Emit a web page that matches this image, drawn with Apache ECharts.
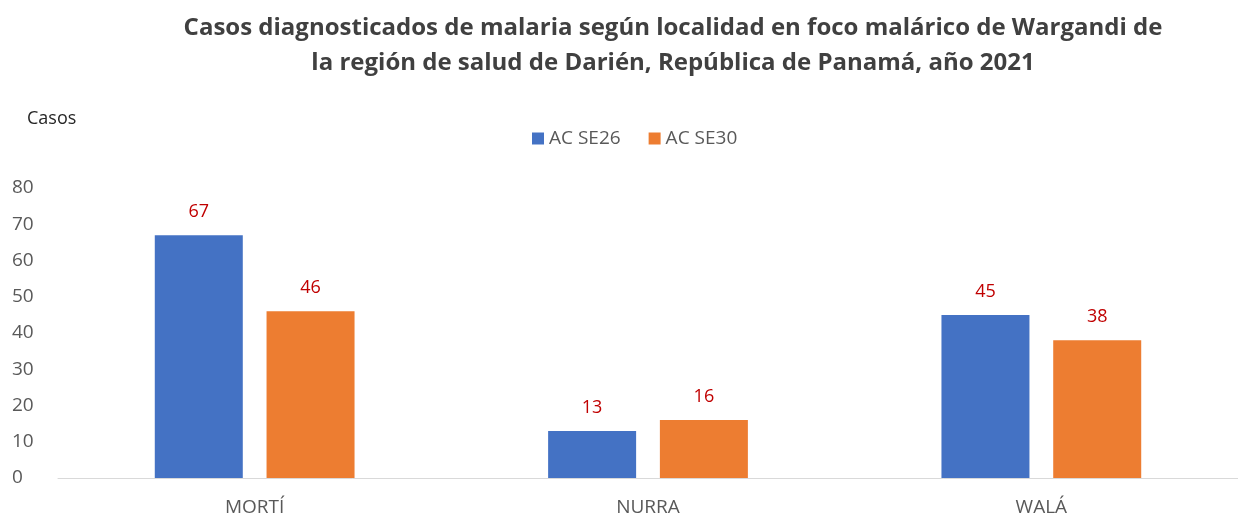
<!DOCTYPE html>
<html>
<head>
<meta charset="utf-8">
<script src="https://cdn.jsdelivr.net/npm/echarts@6/dist/echarts.min.js"></script>
<style>
  html, body { margin: 0; padding: 0; background: #fff; }
  #main { width: 1238px; height: 518px; }
</style>
</head>
<body>
<div id="main"></div>
<script>
// localidades del foco
var localidades = ['MORTÍ', 'NURRA', 'WALÁ'];
var serieNombres = ['AC SE26', 'AC SE30'];
var casosSE26 = [67, 13, 45];
var casosSE30 = [46, 16, 38];
var yTicks = [0, 10, 20, 30, 40, 50, 60, 70, 80];

var chart = echarts.init(document.getElementById('main'));
var grey = '#595959';
var font = '"Open Sans", sans-serif';

var option = {
  animation: false,
  title: {
    text: 'Casos diagnosticados de malaria según localidad en foco malárico de Wargandi de\nla región de salud de Darién, República de Panamá, año 2021',
    left: 668,
    textAlign: 'center',
    top: 6,
    textStyle: { fontFamily: font, fontSize: 24, fontWeight: 'bold', color: '#404040', lineHeight: 35 }
  },
  legend: {
    data: serieNombres,
    top: 124,
    left: 527,
    itemWidth: 12,
    itemHeight: 12,
    itemGap: 28,
    icon: 'rect',
    textStyle: { fontFamily: font, fontSize: 19, color: grey }
  },
  grid: { left: 58, right: 0, top: 188, bottom: 40 },
  xAxis: {
    type: 'category',
    data: localidades,
    axisLine: { lineStyle: { color: '#d9d9d9' } },
    axisTick: { show: false },
    axisLabel: { fontFamily: font, fontSize: 19, color: grey, margin: 20 }
  },
  yAxis: {
    type: 'value',
    name: 'Casos',
    nameLocation: 'end',
    nameGap: 60,
    nameTextStyle: { fontFamily: font, fontSize: 18, color: '#262626', align: 'left', padding: [0, 0, 0, -31] },
    min: yTicks[0],
    max: yTicks[yTicks.length - 1],
    interval: 10,
    splitLine: { show: false },
    axisLine: { show: false },
    axisLabel: { fontFamily: font, fontSize: 19, color: grey, align: 'left', margin: 46 }
  },
  series: [
    {
      name: serieNombres[0],
      type: 'bar',
      data: casosSE26,
      barWidth: 88,
      barGap: '27%',
      itemStyle: { color: '#4472C4' },
      label: { show: true, position: 'top', distance: 14, fontFamily: font, fontSize: 18, color: '#C00000' }
    },
    {
      name: serieNombres[1],
      type: 'bar',
      data: casosSE30,
      barWidth: 88,
      itemStyle: { color: '#ED7D31' },
      label: { show: true, position: 'top', distance: 14, fontFamily: font, fontSize: 18, color: '#C00000' }
    }
  ]
};

chart.setOption(option);
</script>
</body>
</html>
